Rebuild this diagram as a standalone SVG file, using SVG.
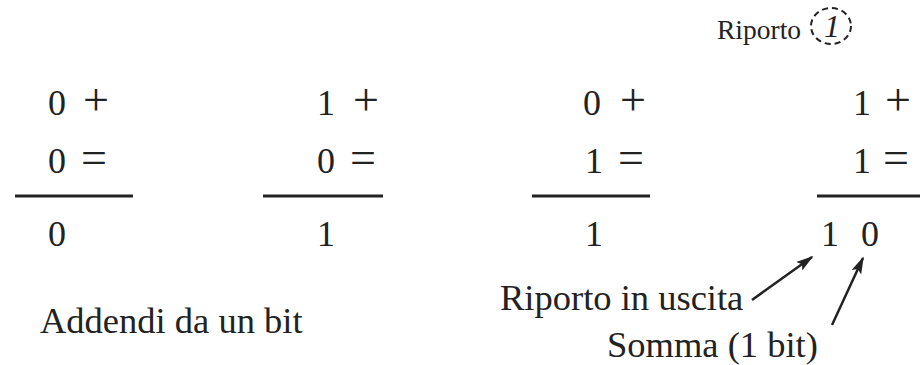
<svg xmlns="http://www.w3.org/2000/svg" width="922" height="365" viewBox="0 0 922 365">
<defs>
<style>
.d{font-family:"Liberation Serif","Times New Roman",serif;font-size:36px;fill:#222;text-anchor:end}
.o{font-family:"Liberation Serif","Times New Roman",serif;font-size:46px;fill:#222}
.l{font-family:"Liberation Serif","Times New Roman",serif;font-size:36.5px;fill:#222}
.bar{stroke:#222;stroke-width:3}
.arr{stroke:#222;stroke-width:2.5;fill:none;marker-end:url(#ah)}
</style>
<marker id="ah" viewBox="0 0 10 10" refX="9" refY="5" markerWidth="7" markerHeight="7" orient="auto" markerUnits="strokeWidth">
<path d="M0,2 L10,5 L0,8 L2,5 Z" fill="#222"/>
</marker>
</defs>
<rect width="922" height="365" fill="#fff"/>
<g id="carry">
<text x="717" y="39" style="font-family:'Liberation Serif','Times New Roman',serif;font-size:27.5px;fill:#222">Riporto</text>
<ellipse cx="831" cy="26" rx="20" ry="18" fill="none" stroke="#222" stroke-width="2" stroke-dasharray="6,4"/>
<text x="832" y="37" text-anchor="middle" style="font-family:'Liberation Serif','Times New Roman',serif;font-size:32px;font-style:italic;fill:#222">1</text>
</g>
<g id="sum1">
<text class="d" x="66" y="115">0</text><text class="o" x="83" y="115">+</text>
<text class="d" x="66" y="173">0</text><text class="o" x="81" y="173">=</text>
<line class="bar" x1="15" y1="196" x2="133" y2="196"/>
<text class="d" x="66" y="246">0</text>
</g>
<g id="sum2">
<text class="d" x="335" y="115">1</text><text class="o" x="353" y="115">+</text>
<text class="d" x="335" y="173">0</text><text class="o" x="350" y="173">=</text>
<line class="bar" x1="263" y1="196" x2="383" y2="196"/>
<text class="d" x="335" y="246">1</text>
</g>
<g id="sum3">
<text class="d" x="601" y="115">0</text><text class="o" x="620" y="115">+</text>
<text class="d" x="603" y="173">1</text><text class="o" x="618" y="173">=</text>
<line class="bar" x1="532" y1="196" x2="650" y2="196"/>
<text class="d" x="603" y="246">1</text>
</g>
<g id="sum4">
<text class="d" x="871" y="115">1</text><text class="o" x="885" y="115">+</text>
<text class="d" x="871" y="173">1</text><text class="o" x="883" y="173">=</text>
<line class="bar" x1="817" y1="196" x2="920" y2="196"/>
<text class="d" x="839" y="246">1</text><text class="d" x="879" y="246">0</text>
</g>
<g id="labels">
<text class="l" x="500" y="310">Riporto in uscita</text>
<text class="l" x="40" y="333">Addendi da un bit</text>
<text class="l" x="607" y="357">Somma (1 bit)</text>
</g>
<g id="connectors">
<line class="arr" x1="752" y1="300" x2="812" y2="257"/>
<line class="arr" x1="832" y1="325" x2="863" y2="258"/>
</g>
</svg>
